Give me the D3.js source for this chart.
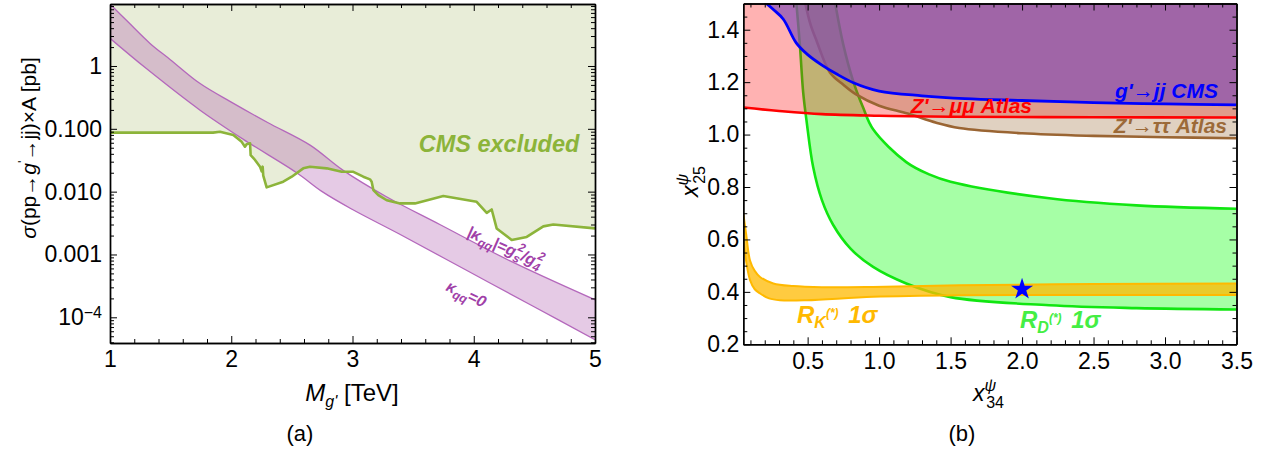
<!DOCTYPE html>
<html>
<head>
<meta charset="utf-8">
<script src="https://cdn.jsdelivr.net/npm/d3@7"></script>
<style>
body { margin: 0; background: #fff; }
text { font-family: "Liberation Sans", Arial, sans-serif; }
</style>
</head>
<body>
<svg width="1268" height="450"></svg>
<script>
// ---- panel (a): dijet cross section vs coloron mass
const massTicks = [1, 2, 3, 4, 5];
const massMinor = [1.2, 1.4, 1.6, 1.8, 2.2, 2.4, 2.6, 2.8, 3.2, 3.4, 3.6, 3.8, 4.2, 4.4, 4.6, 4.8];
const sigmaTicks = [1e-4, 1e-3, 1e-2, 1e-1, 1];
const sigmaTickLabels = ["10^-4", "0.001", "0.010", "0.100", "1"];
// |kappa_qq| = gs^2/g4^2 (upper edge of band)
const kappaMax = [[1.0, 9.7], [1.15, 5.0], [1.33, 2.29], [1.5, 1.25], [1.74, 0.53], [2.0, 0.266],
  [2.3, 0.126], [2.65, 0.055], [2.92, 0.022], [3.28, 0.0083], [3.72, 0.003], [4.3, 0.00079], [5.0, 0.00019]];
// kappa_qq = 0 (lower edge of band)
const kappaZero = [[1.0, 2.76], [1.3, 0.91], [1.74, 0.20], [2.1, 0.068], [2.54, 0.020], [2.75, 0.010],
  [3.0, 0.0052], [3.39, 0.0021], [3.94, 0.00056], [4.49, 0.00015], [5.0, 0.000044]];
// CMS dijet limit
const cmsLimit = [[1.0, 0.087], [1.85, 0.087], [1.907, 0.090], [2.017, 0.080], [2.086, 0.062], [2.113, 0.052],
  [2.127, 0.057], [2.155, 0.059], [2.16, 0.038], [2.196, 0.032], [2.237, 0.025], [2.251, 0.021], [2.259, 0.025],
  [2.264, 0.018], [2.292, 0.0117], [2.429, 0.0144], [2.499, 0.0173], [2.594, 0.0235], [2.649, 0.0249],
  [2.787, 0.0235], [2.911, 0.0207], [3.007, 0.0207], [3.089, 0.0173], [3.144, 0.0157], [3.158, 0.0144],
  [3.172, 0.0106], [3.213, 0.0088], [3.282, 0.0073], [3.392, 0.0065], [3.515, 0.0065], [3.749, 0.0085],
  [4.024, 0.0069], [4.107, 0.0046], [4.148, 0.0052], [4.189, 0.0026], [4.313, 0.0017], [4.437, 0.0019],
  [4.574, 0.0028], [4.656, 0.0030], [5.0, 0.0026]];

// ---- panel (b): x34 vs x25 plane
const x34Ticks = [0.5, 1.0, 1.5, 2.0, 2.5, 3.0, 3.5];
const x25Ticks = [0.2, 0.4, 0.6, 0.8, 1.0, 1.2, 1.4];
const gjjCMS = [[0.19, 1.51], [0.26, 1.477], [0.33, 1.44], [0.42, 1.35], [0.5, 1.305], [0.6, 1.265], [0.7, 1.232],
  [0.82, 1.198], [1.0, 1.166], [1.3, 1.148], [1.6, 1.137], [2.0, 1.13], [2.5, 1.122], [3.0, 1.117], [3.5, 1.113]];
const zmumuAtlas = [[0.05, 1.103], [0.3, 1.09], [0.6, 1.078], [1.0, 1.072], [1.5, 1.068], [2.5, 1.066], [3.5, 1.065]];
const ztautauAtlas = [[0.48, 1.51], [0.52, 1.42], [0.563, 1.357], [0.656, 1.237], [0.75, 1.19], [0.842, 1.152],
  [1.0, 1.11], [1.2, 1.08], [1.4, 1.045], [1.56, 1.025], [2.0, 1.005], [2.5, 0.995], [3.0, 0.99], [3.5, 0.986]];
const rdLow = [[0.42, 1.51], [0.446, 1.34], [0.469, 1.16], [0.493, 1.05], [0.539, 0.875], [0.6, 0.75],
  [0.679, 0.655], [0.8, 0.565], [0.958, 0.495], [1.19, 0.432], [1.5, 0.38], [2.19, 0.349], [2.8, 0.338], [3.5, 0.333]];
const rdHigh = [[0.69, 1.51], [0.749, 1.344], [0.818, 1.205], [0.888, 1.103], [0.958, 1.02], [1.19, 0.895],
  [1.35, 0.848], [1.5, 0.82], [2.19, 0.757], [2.8, 0.73], [3.5, 0.717]];
const rkHigh = [[0.05, 0.70], [0.07, 0.62], [0.097, 0.52], [0.13, 0.48], [0.167, 0.457], [0.26, 0.432], [0.4, 0.422],
  [0.6, 0.418], [0.958, 0.419], [1.563, 0.425], [2.5, 0.43], [3.5, 0.432]];
const rkLow = [[0.05, 0.60], [0.075, 0.50], [0.097, 0.445], [0.13, 0.41], [0.167, 0.394], [0.23, 0.375],
  [0.306, 0.368], [0.493, 0.368], [0.958, 0.381], [1.563, 0.387], [2.5, 0.388], [3.5, 0.388]];
const benchmark = [[2.0, 0.41]];

const svg = d3.select("svg");
const FONT = '"Liberation Sans", Arial, sans-serif';

function styleAxis(g) {
  g.attr("font-family", null).attr("font-size", null);
  g.select(".domain").attr("stroke", "#000").attr("stroke-width", 1.4);
  g.selectAll(".tick line").attr("stroke", "#000").attr("stroke-width", 1);
  g.selectAll("text").attr("font-family", FONT).attr("font-size", 23).attr("fill", "#000");
}

function frame(root, x, y, t) {
  const [x0, x1] = x.range(), [y0, y1] = y.range();
  const add = (axis, tx, ty) => root.append("g").attr("transform", `translate(${tx},${ty})`).call(axis).call(styleAxis);
  add(d3.axisBottom(x).tickValues(t.xMin).tickSize(-4).tickSizeOuter(0).tickFormat(""), 0, y0);
  add(d3.axisTop(x).tickValues(t.xMin).tickSize(-4).tickSizeOuter(0).tickFormat(""), 0, y1);
  add(d3.axisLeft(y).tickValues(t.yMin).tickSize(-4).tickSizeOuter(0).tickFormat(""), x0, 0);
  add(d3.axisRight(y).tickValues(t.yMin).tickSize(-4).tickSizeOuter(0).tickFormat(""), x1, 0);
  add(d3.axisBottom(x).tickValues(t.xMaj).tickSize(-7).tickSizeOuter(0).tickPadding(8).tickFormat(t.xFmt), 0, y0);
  add(d3.axisTop(x).tickValues(t.xMaj).tickSize(-7).tickSizeOuter(0).tickFormat(""), 0, y1);
  const ly = add(d3.axisLeft(y).tickValues(t.yMaj).tickSize(-7).tickSizeOuter(0).tickPadding(t.yPad).tickFormat(t.yFmt), x0, 0);
  add(d3.axisRight(y).tickValues(t.yMaj).tickSize(-7).tickSizeOuter(0).tickFormat(""), x1, 0);
  return ly;
}

function band(gen, a, b) {
  return gen(a) + gen(b.slice().reverse()).replace(/^M/, "L") + "Z";
}

// ================= panel (a) =================
const xa = d3.scaleLinear().domain([1, 5]).range([110, 595]);
const ya = d3.scaleLog().domain([3.9e-5, 9.7]).range([343, 4]);
const ga = svg.append("g");
ga.append("clipPath").attr("id", "clipA").append("rect")
  .attr("x", 110).attr("y", 4).attr("width", 485).attr("height", 339);
const plotA = ga.append("g").attr("clip-path", "url(#clipA)");

const lineA = d3.line().x(d => xa(d[0])).y(d => ya(d[1]));
const smoothA = d3.line().x(d => xa(d[0])).y(d => ya(d[1])).curve(d3.curveCatmullRom.alpha(0.5));

plotA.append("path").datum(cmsLimit)
  .attr("d", d3.area().x(d => xa(d[0])).y0(0).y1(d => ya(d[1])))
  .attr("fill", "#e8edd8");
plotA.append("path").attr("d", band(smoothA, kappaMax, kappaZero))
  .attr("fill", "rgb(170,80,170)").attr("fill-opacity", 0.3);
[kappaMax, kappaZero].forEach(s => {
  plotA.append("path").datum(s).attr("d", smoothA)
    .attr("fill", "none").attr("stroke", "#b468bc").attr("stroke-width", 1.3);
});
plotA.append("path").datum(cmsLimit).attr("d", lineA)
  .attr("fill", "none").attr("stroke", "#8cb43a").attr("stroke-width", 2.6).attr("stroke-linejoin", "round");

const lyA = frame(ga, xa, ya, {
  xMaj: massTicks, xMin: massMinor, xFmt: d3.format("d"),
  yMaj: sigmaTicks, yFmt: (d, i) => sigmaTickLabels[i], yPad: 8,
  yMin: d3.range(-5, 1).flatMap(e => d3.range(2, 10).map(k => k * Math.pow(10, e)))
    .filter(v => v > 3.9e-5 && v < 9.7)
});
lyA.selectAll(".tick text").each(function () {
  const t = d3.select(this), s = t.text();
  if (s.includes("^")) {
    const [b, p] = s.split("^");
    t.text(b);
    t.append("tspan").attr("dy", "-0.45em").attr("font-size", 16).text(p.replace("-", "\u2212"));
  }
});

ga.append("text").attr("x", 499).attr("y", 152).attr("text-anchor", "middle")
  .attr("font-size", 23.5).attr("font-weight", "bold").attr("font-style", "italic")
  .attr("fill", "#8cb43a").text("CMS excluded");

const kLab = ga.append("text").attr("transform", "translate(466,236) rotate(24)")
  .attr("font-size", 16).attr("font-weight", "bold").attr("font-style", "italic").attr("fill", "#a040a8");
kLab.append("tspan").text("|\u03ba");
kLab.append("tspan").attr("dy", 4).attr("font-size", 12).text("qq");
kLab.append("tspan").attr("dy", -4).text("|=g");
kLab.append("tspan").attr("dy", 4).attr("font-size", 12).text("s");
kLab.append("tspan").attr("dx", -6).attr("dy", -12).attr("font-size", 12).text("2");
kLab.append("tspan").attr("dy", 8).text("/g");
kLab.append("tspan").attr("dy", 4).attr("font-size", 12).text("4");
kLab.append("tspan").attr("dx", -6).attr("dy", -12).attr("font-size", 12).text("2");

const k0 = ga.append("text").attr("transform", "translate(445,290) rotate(25)")
  .attr("font-size", 16).attr("font-weight", "bold").attr("font-style", "italic").attr("fill", "#a040a8");
k0.append("tspan").text("\u03ba");
k0.append("tspan").attr("dy", 4).attr("font-size", 12).text("qq");
k0.append("tspan").attr("dy", -4).text("=0");

const xl = ga.append("text").attr("x", 352).attr("y", 401).attr("text-anchor", "middle").attr("font-size", 24);
xl.append("tspan").attr("font-style", "italic").text("M");
xl.append("tspan").attr("dy", 6).attr("font-size", 16).attr("font-style", "italic").text("g'");
xl.append("tspan").attr("dy", -6).text(" [TeV]");

const yl = ga.append("text").attr("transform", "translate(36,148) rotate(-90)").attr("text-anchor", "middle").attr("font-size", 21);
yl.append("tspan").attr("font-style", "italic").text("\u03c3");
yl.append("tspan").text("(pp\u2192");
yl.append("tspan").attr("font-style", "italic").text("g");
yl.append("tspan").attr("dy", -9).attr("font-size", 13).text("'");
yl.append("tspan").attr("dy", 9).text("\u2192jj)\u00d7A [pb]");

ga.append("text").attr("x", 300).attr("y", 441).attr("text-anchor", "middle")
  .attr("font-family", '"Liberation Serif", "DejaVu Serif", serif').attr("font-size", 22).text("(a)");

// ================= panel (b) =================
const xb = d3.scaleLinear().domain([0.05, 3.5]).range([743.3, 1236.5]);
const yb = d3.scaleLinear().domain([0.2, 1.5]).range([344.3, 3.5]);
const gb = svg.append("g");
gb.append("clipPath").attr("id", "clipB").append("rect")
  .attr("x", 743.3).attr("y", 3.5).attr("width", 493.2).attr("height", 340.8);
const plotB = gb.append("g").attr("clip-path", "url(#clipB)");

const smoothB = d3.line().x(d => xb(d[0])).y(d => yb(d[1])).curve(d3.curveCatmullRom.alpha(0.5));
const closeTop = pts => smoothB(pts) + `L${xb(pts[pts.length - 1][0])},-20L${xb(pts[0][0])},-20Z`;

// R_D band
plotB.append("path").attr("d", band(smoothB, rdLow, rdHigh)).attr("fill", "#00ff00").attr("fill-opacity", 0.35);
[rdLow, rdHigh].forEach(s => plotB.append("path").datum(s).attr("d", smoothB)
  .attr("fill", "none").attr("stroke", "#11e611").attr("stroke-width", 2.6));
// R_K band
plotB.append("path").attr("d", band(smoothB, rkHigh, rkLow)).attr("fill", "#ffb900").attr("fill-opacity", 0.75);
[rkHigh, rkLow].forEach(s => plotB.append("path").datum(s).attr("d", smoothB)
  .attr("fill", "none").attr("stroke", "#ffb900").attr("stroke-width", 2));
// Z' -> mu mu excluded
plotB.append("path").attr("d", closeTop(zmumuAtlas)).attr("fill", "#ff0000").attr("fill-opacity", 0.3);
// Z' -> tau tau excluded
plotB.append("path").attr("d", closeTop(ztautauAtlas)).attr("fill", "rgb(153,102,51)").attr("fill-opacity", 0.3);
plotB.append("path").datum(ztautauAtlas).attr("d", smoothB)
  .attr("fill", "none").attr("stroke", "#9a6533").attr("stroke-width", 2.6);
// g' -> jj excluded
plotB.append("path").attr("d", closeTop(gjjCMS)).attr("fill", "rgb(133,79,180)").attr("fill-opacity", 0.7);
plotB.append("path").datum(zmumuAtlas).attr("d", smoothB)
  .attr("fill", "none").attr("stroke", "#ff0000").attr("stroke-width", 2.6);
plotB.append("path").datum(gjjCMS).attr("d", smoothB)
  .attr("fill", "none").attr("stroke", "#0000ff").attr("stroke-width", 2.8);

plotB.selectAll(".star").data(benchmark).enter().append("path")
  .attr("transform", d => `translate(${xb(d[0])},${yb(d[1])})`)
  .attr("d", d3.symbol(d3.symbolStar).size(150)).attr("fill", "#0000ff");

frame(gb, xb, yb, {
  xMaj: x34Ticks, xMin: d3.range(1, 36).map(i => i / 10).filter(v => !x34Ticks.some(t => Math.abs(t - v) < 1e-6)),
  xFmt: d3.format(".1f"),
  yMaj: x25Ticks, yFmt: d3.format(".1f"), yPad: 4,
  yMin: d3.range(4, 30).map(i => i * 0.05).filter(v => v < 1.5 && !x25Ticks.some(t => Math.abs(t - v) < 1e-6))
});

const lab = (x, y, anchor, color, txt) => gb.append("text").attr("x", x).attr("y", y).attr("text-anchor", anchor)
  .attr("font-size", 21).attr("font-weight", "bold").attr("font-style", "italic").attr("fill", color).text(txt);
lab(1218, 98, "end", "#0000ff", "g'\u2192jj CMS");
lab(1032, 113, "end", "#ff0000", "Z'\u2192\u03bc\u03bc Atlas");
lab(1227, 133, "end", "#9c6a38", "Z'\u2192\u03c4\u03c4 Atlas");

function rLabel(x, y, color, sub) {
  const t = gb.append("text").attr("x", x).attr("y", y).attr("font-size", 24)
    .attr("font-weight", "bold").attr("font-style", "italic").attr("fill", color);
  t.append("tspan").text("R");
  t.append("tspan").attr("dy", 5).attr("font-size", 16).text(sub);
  t.append("tspan").attr("dy", -11).attr("font-size", 12).text("(*)");
  t.append("tspan").attr("dx", 3).attr("dy", 6).text(" 1\u03c3");
}
rLabel(797, 323, "#ffb900", "K");
rLabel(1020, 328, "#44ee44", "D");

const xl2 = gb.append("text").attr("x", 973).attr("y", 401).attr("font-size", 23);
xl2.append("tspan").attr("font-style", "italic").text("x");
xl2.append("tspan").attr("dy", -10).attr("font-size", 16).attr("font-style", "italic").text("\u03c8");
xl2.append("tspan").attr("dx", -10).attr("dy", 17).attr("font-size", 16).text("34");

const yl2 = gb.append("text").attr("transform", "translate(698,197) rotate(-90)").attr("font-size", 23);
yl2.append("tspan").attr("font-style", "italic").text("x");
yl2.append("tspan").attr("dy", -10).attr("font-size", 16).attr("font-style", "italic").text("\u03c8");
yl2.append("tspan").attr("dx", -10).attr("dy", 17).attr("font-size", 16).text("25");

gb.append("text").attr("x", 962).attr("y", 441).attr("text-anchor", "middle")
  .attr("font-family", '"Liberation Serif", "DejaVu Serif", serif').attr("font-size", 22).text("(b)");
</script>
</body>
</html>
